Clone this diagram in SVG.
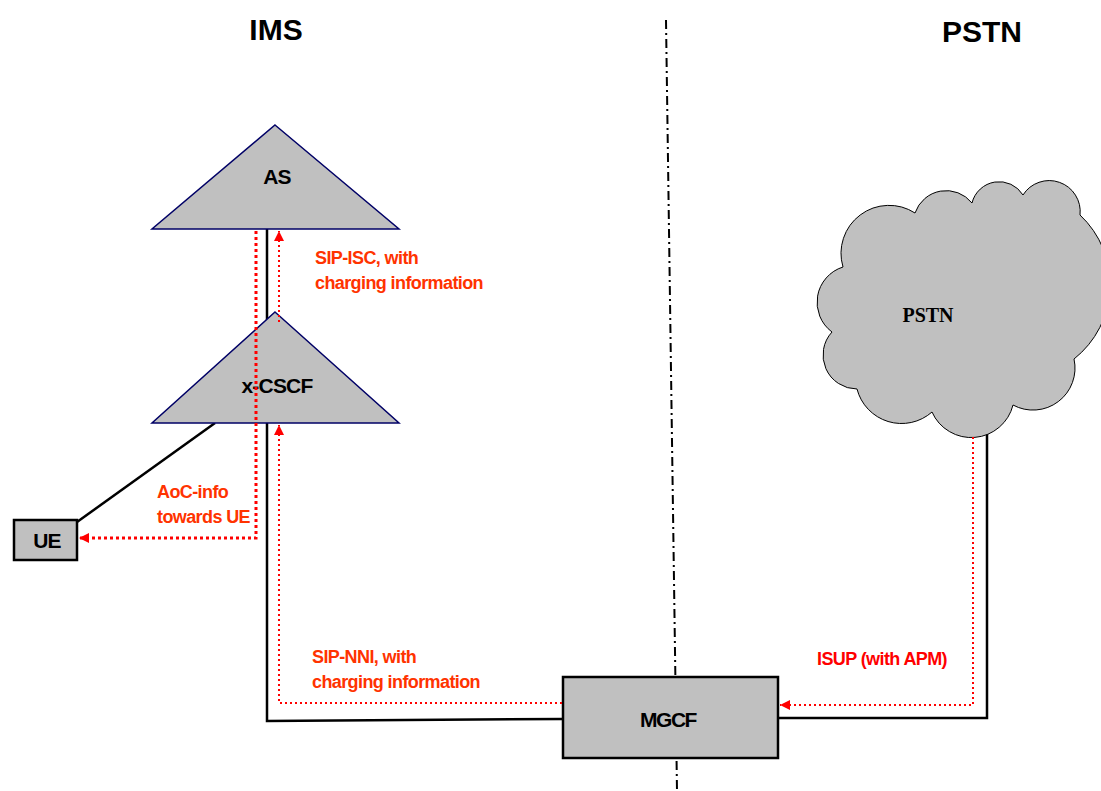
<svg xmlns="http://www.w3.org/2000/svg" width="1101" height="791" viewBox="0 0 1101 791">
<defs>
<style>
.title{font-family:"Liberation Sans",Arial,sans-serif;font-weight:bold;font-size:30px;fill:#000;text-anchor:middle}
.node{font-family:"Liberation Sans",Arial,sans-serif;font-weight:bold;font-size:21px;fill:#000;text-anchor:middle;letter-spacing:-0.8px}
.lbl{font-family:"Liberation Sans",Arial,sans-serif;font-weight:bold;font-size:18px;fill:#FF3300;letter-spacing:-0.6px}
.lblr{fill:#FF0000}
.tri{fill:#C0C0C0;stroke:#000066;stroke-width:1.5}
.box{fill:#C0C0C0;stroke:#000;stroke-width:2.5}
.wire{fill:none;stroke:#000;stroke-width:2.5}
.dot{fill:none;stroke:#FF0000;stroke-width:2;stroke-dasharray:2 3}
.dotb{fill:none;stroke:#FF0000;stroke-width:3;stroke-dasharray:3 3}
</style>
<marker id="ah" viewBox="0 0 10 10" refX="10" refY="5" markerWidth="10" markerHeight="10" markerUnits="userSpaceOnUse" orient="auto">
<path d="M0,0 L10,5 L0,10 z" fill="#FF0000"/>
</marker>
</defs>
<rect width="1101" height="791" fill="#fff"/>
<text class="title" x="276" y="40">IMS</text>
<text class="title" x="982" y="42">PSTN</text>
<line x1="666" y1="20" x2="677" y2="791" stroke="#000" stroke-width="2" stroke-dasharray="9 4 2 4"/>
<g id="wires">
<polyline class="wire" points="267,229 267,721 563,719"/>
<line class="wire" x1="77" y1="522" x2="215" y2="423"/>
<polyline class="wire" points="987,430 987,718 778,718"/>
</g>
<g id="cloud-pstn">
<path d="M832,332 A37,37 0 0 1 843,267 A48,48 0 0 1 915,213 A33,33 0 0 1 972,203 A28,28 0 0 1 1023,195 A31,31 0 0 1 1080,215 A95,95 0 0 1 1074,359 A42,42 0 0 1 1013,405 A43,43 0 0 1 932,412 A46,46 0 0 1 857,389 A34,34 0 0 1 832,332 Z" fill="#C0C0C0" stroke="#000" stroke-width="1"/>
<text x="928" y="322" font-family="'Liberation Serif','Times New Roman',serif" font-weight="bold" font-size="20" text-anchor="middle">PSTN</text>
</g>
<g id="node-as">
<polygon class="tri" points="275,125 399,229 152,229"/>
<text class="node" x="277" y="184">AS</text>
</g>
<g id="node-xcscf">
<polygon class="tri" points="275,312 399,423 152,423"/>
<text class="node" x="277" y="393">x-CSCF</text>
</g>
<g id="node-ue">
<rect class="box" x="14" y="520" width="63" height="40"/>
<text class="node" x="47" y="548">UE</text>
</g>
<g id="node-mgcf">
<rect class="box" x="563" y="677" width="215" height="81"/>
<text class="node" x="668" y="727" style="letter-spacing:-1.5px">MGCF</text>
</g>
<g id="connectors">
<polyline class="dotb" points="256,231 256,538 79,538" marker-end="url(#ah)"/>
<line class="dot" x1="279" y1="322" x2="279" y2="231" marker-end="url(#ah)"/>
<polyline class="dot" points="562,703 279,703 279,425" marker-end="url(#ah)"/>
<polyline class="dot" points="973,437 973,705 780,705" marker-end="url(#ah)"/>
</g>
<g id="labels">
<text class="lbl" x="315" y="264">SIP-ISC, with</text>
<text class="lbl" x="315" y="289">charging information</text>
<text class="lbl" x="157" y="498">AoC-info</text>
<text class="lbl" x="157" y="523">towards UE</text>
<text class="lbl" x="312" y="663">SIP-NNI, with</text>
<text class="lbl" x="312" y="688">charging information</text>
<text class="lbl lblr" x="817" y="665">ISUP (with APM)</text>
</g>
</svg>
